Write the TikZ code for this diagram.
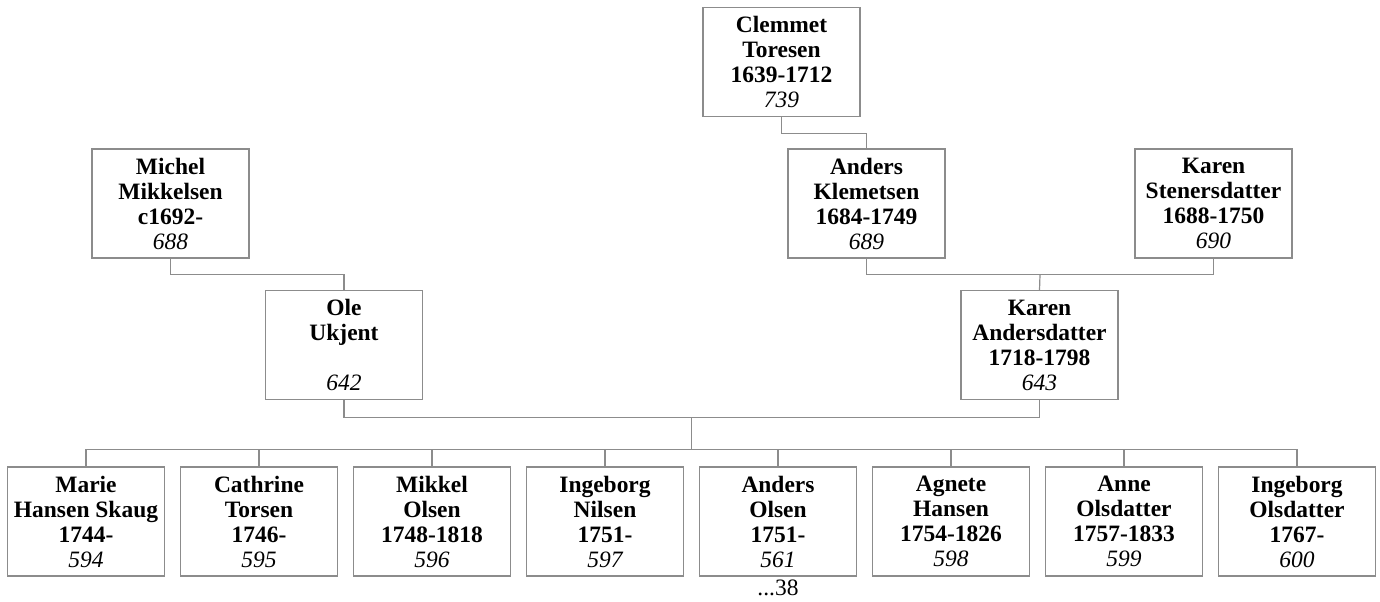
\documentclass[tikz,border=0pt]{standalone}
\usepackage{fontspec}
\setmainfont{Liberation Serif}
\usetikzlibrary{calc}
\tikzset{
    person/.style={rectangle, draw=gray!90, line width=0.9pt, fill=white, minimum width=117.75pt, minimum height=81.75pt, inner sep=0pt, align=center, font=\bfseries\fontsize{17.6}{18.75}\selectfont},
    link/.style={draw=gray!90, line width=0.9pt},
    note/.style={font=\fontsize{17.6}{18.75}\selectfont, anchor=base}
}
\newcommand{\refno}[1]{{\mdseries\itshape #1}}

\begin{document}
\begin{tikzpicture}[x=0.75pt, y=-0.75pt]
    \useasboundingbox (0,0) rectangle (1380,601);
    % ancestors
    \node[person] (clemmet) at (781.5,62) {Clemmet\\Toresen\\1639-1712\\\refno{739}};
    \node[person] (michel) at (170.5,203.5) {Michel\\Mikkelsen\\c1692-\\\refno{688}};
    \node[person] (anders) at (866.5,203.5) {Anders\\Klemetsen\\1684-1749\\\refno{689}};
    \node[person] (karenS) at (1213.5,203.5) {Karen\\Stenersdatter\\1688-1750\\\refno{690}};
    \node[person] (ole) at (344,345) {Ole\\Ukjent\\\mbox{}\\\refno{642}};
    \node[person] (karenA) at (1039.5,345) {Karen\\Andersdatter\\1718-1798\\\refno{643}};
    % children
    \foreach \i/\fname/\lname/\yrs/\nr in {1/Marie/Hansen Skaug/1744-/594, 2/Cathrine/Torsen/1746-/595,
        3/Mikkel/Olsen/1748-1818/596, 4/Ingeborg/Nilsen/1751-/597, 5/Anders/Olsen/1751-/561,
        6/Agnete/Hansen/1754-1826/598, 7/Anne/Olsdatter/1757-1833/599, 8/Ingeborg/Olsdatter/1767-/600}
        \node[person] (child\i) at ({86+173*(\i-1)},521.5) {\fname\\\lname\\\yrs\\\refno{\nr}};
    \node[note] (more) at (778,595) {...38};
    % connectors
    \draw[link] (clemmet.south) -- ++(0,16) -| (anders.north);
    \draw[link] (michel.south) -- ++(0,16) -| (ole.north);
    \coordinate (jAK) at ($(anders.south)!0.5!(karenS.south)+(0,16)$);
    \draw[link] (anders.south) |- (jAK) -| (karenS.south);
    \draw[link] (jAK) -- (karenA.north);
    \coordinate (jOK) at ($(ole.south)!0.5!(karenA.south)+(0,17)$);
    \coordinate (jKids) at ($(jOK)+(0,32)$);
    \draw[link] (ole.south) |- (jOK) -| (karenA.south);
    \draw[link] (jOK) -- (jKids);
    \draw[link] (child1.north) |- (jKids) -| (child8.north);
    \foreach \i in {2,...,7}
        \draw[link] (child\i.north) -- (child\i.north |- jKids);
\end{tikzpicture}
\end{document}
